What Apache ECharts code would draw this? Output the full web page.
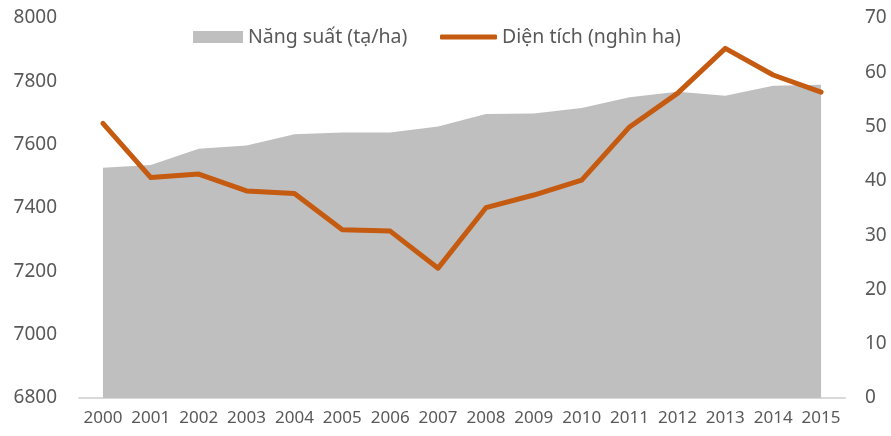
<!DOCTYPE html>
<html>
<head>
<meta charset="utf-8">
<script src="https://cdn.jsdelivr.net/npm/echarts@6/dist/echarts.min.js"></script>
<style>
  html, body { margin: 0; padding: 0; background: #fff; }
  #chart { width: 891px; height: 436px; }
</style>
</head>
<body>
<div id="chart"></div>
<script>
var years = ["2000", "2001", "2002", "2003", "2004", "2005", "2006", "2007",
  "2008", "2009", "2010", "2011", "2012", "2013", "2014", "2015"];
// năng suất (tạ/ha) - right axis, grey area
var nangSuat = [42.4, 42.9, 45.9, 46.5, 48.6, 48.9, 48.9, 50.0,
  52.3, 52.4, 53.4, 55.4, 56.4, 55.7, 57.5, 57.7];
// diện tích (nghìn ha) - left axis, orange line
var dienTich = [7667, 7496, 7507, 7454, 7446, 7331, 7327, 7210,
  7401, 7441, 7488, 7656, 7762, 7904, 7820, 7766];

var font = "'Noto Sans', 'Open Sans', sans-serif";
var legendText = { fontFamily: font, fontSize: 19.5, color: "#595959" };
var myChart = echarts.init(document.getElementById("chart"));

var option = {
  animation: false,
  legend: [
    {
      left: 188,
      top: 22,
      itemWidth: 50,
      itemHeight: 12,
      textStyle: legendText,
      data: [{ name: "Năng suất (tạ/ha)", icon: "rect" }]
    },
    {
      left: 435,
      top: 22,
      itemWidth: 57,
      itemHeight: 5,
      textStyle: legendText,
      data: [{ name: "Diện tích (nghìn ha)", icon: "roundRect" }]
    }
  ],
  grid: { left: 79, right: 46, top: 18, bottom: 38 },
  xAxis: {
    type: "category",
    data: years,
    boundaryGap: true,
    axisLine: { lineStyle: { color: "#d9d9d9", width: 2 } },
    axisTick: { show: false },
    axisLabel: { fontFamily: font, fontSize: 17, color: "#595959", margin: 12, interval: 0 }
  },
  yAxis: [
    {
      type: "value",
      min: 6800,
      max: 8000,
      interval: 200,
      splitLine: { show: false },
      axisLine: { show: false },
      axisTick: { show: false },
      axisLabel: {
        fontFamily: font, fontSize: 19, color: "#595959", margin: 22,
        formatter: function (v) { return String(v); }
      }
    },
    {
      type: "value",
      min: 0,
      max: 70,
      interval: 10,
      splitLine: { show: false },
      axisLine: { show: false },
      axisTick: { show: false },
      axisLabel: { fontFamily: font, fontSize: 19, color: "#595959", margin: 20 }
    }
  ],
  series: [
    {
      name: "Năng suất (tạ/ha)",
      type: "line",
      yAxisIndex: 1,
      data: nangSuat,
      symbol: "none",
      lineStyle: { width: 0 },
      itemStyle: { color: "#bfbfbf" },
      areaStyle: { color: "#bfbfbf", opacity: 1 }
    },
    {
      name: "Diện tích (nghìn ha)",
      type: "line",
      yAxisIndex: 0,
      data: dienTich,
      symbol: "none",
      lineStyle: { width: 5, color: "#c55a11", cap: "round", join: "round" },
      itemStyle: { color: "#c55a11" }
    }
  ]
};

myChart.setOption(option);
</script>
</body>
</html>
